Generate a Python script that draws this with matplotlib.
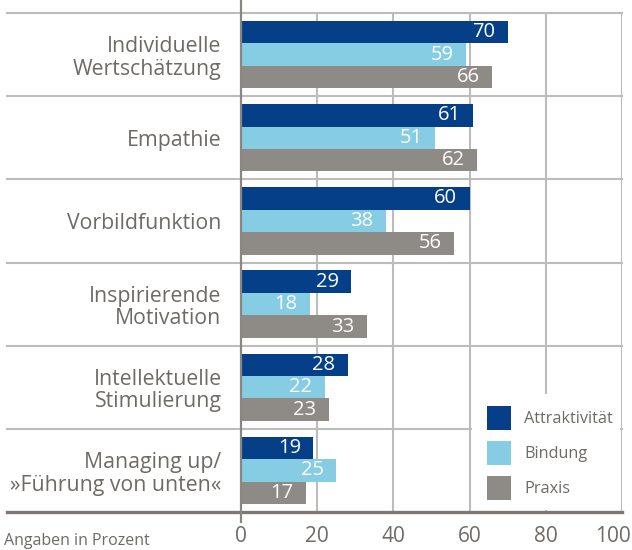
import matplotlib.pyplot as plt
from matplotlib.patches import Rectangle
from matplotlib.transforms import offset_copy
import numpy as np

plt.rcParams['font.family'] = ['Open Sans', 'DejaVu Sans']

# data
categories = ["Individuelle\nWertschätzung", "Empathie", "Vorbildfunktion",
              "Inspirierende\nMotivation", "Intellektuelle\nStimulierung",
              "Managing up/\n»Führung von unten«"]
series_names = ["Attraktivität", "Bindung", "Praxis"]
attraktivitaet = [70, 61, 60, 29, 28, 19]
bindung = [59, 51, 38, 18, 22, 25]
praxis = [66, 62, 56, 33, 23, 17]
xticks = [0, 20, 40, 60, 80, 100]

colors = ["#053f88", "#86cde3", "#8e8a86"]
txt_col = "#6e6a66"
grid_col = "#bcbcbc"

fig = plt.figure(figsize=(6.32, 5.5), dpi=100)
ax = fig.add_axes([241/632, 1 - 512/550, 381/632, 499/550])

y = np.arange(len(categories))
h = 0.27
for i, (vals, col, name) in enumerate(zip([attraktivitaet, bindung, praxis], colors, series_names)):
    pos = y + (i - 1) * h
    ax.barh(pos, vals, height=h, color=col, label=name, zorder=3)
    for p, v in zip(pos, vals):
        ax.annotate(str(v), (v, p), xytext=(-9, 0), textcoords='offset points',
                    ha='right', va='center', color='white', fontsize=14.5, zorder=4)

ax.set_xlim(0, 100)
ax.set_ylim(len(categories) - 0.5, -0.5)
for s in ax.spines.values():
    s.set_visible(False)

# vertical gridlines
ax.vlines(xticks[1:], -0.5, len(categories) - 0.5, color=grid_col, lw=1.5, zorder=1)

# group separators reaching into the label area
ytr = ax.get_yaxis_transform()
for b in np.arange(-0.5, len(categories) - 1, 1.0):
    ax.plot([-0.614, 1], [b, b], transform=ytr, color=grid_col, lw=1.5, clip_on=False, zorder=1)
ax.plot([-0.614, 1], [len(categories) - 0.5] * 2, transform=ytr, color="#7d7874", lw=2.4,
        clip_on=False, zorder=5)
ax.plot([0, 0], [-0.66, len(categories) - 0.38], color="#8a8682", lw=1.6, clip_on=False, zorder=5)

# white area behind the legend
ax.add_patch(Rectangle((0.606, 0.004), 0.389, 0.232, transform=ax.transAxes,
                       facecolor='white', edgecolor='none', zorder=2))
leg = ax.legend(loc='upper left', bbox_to_anchor=(487/632, 1 - 406/550), bbox_transform=fig.transFigure,
                frameon=False, fontsize=11.7, handlelength=1.45, handleheight=1.85,
                labelspacing=0.72, handletextpad=0.85, borderpad=0, borderaxespad=0)
for t in leg.get_texts():
    t.set_color(txt_col)

ax.set_yticks(y)
ax.set_yticklabels(categories, fontsize=15.3, color=txt_col, linespacing=1.1)
ax.set_xticks(xticks)
ax.set_xticklabels([str(t) for t in xticks], fontsize=15, color=txt_col)
ax.tick_params(axis='both', length=0)
ax.tick_params(axis='y', pad=14)
ax.tick_params(axis='x', pad=10)
# last tick label sits flush with the right edge
last = ax.get_xticklabels()[-1]
last.set_horizontalalignment('right')
last.set_transform(offset_copy(last.get_transform(), fig=fig, x=9, units='dots'))

fig.text(4/632, 1 - 545/550, "Angaben in Prozent", fontsize=11.5, color=txt_col,
         ha='left', va='baseline')

fig.savefig("out.png", dpi=100)
